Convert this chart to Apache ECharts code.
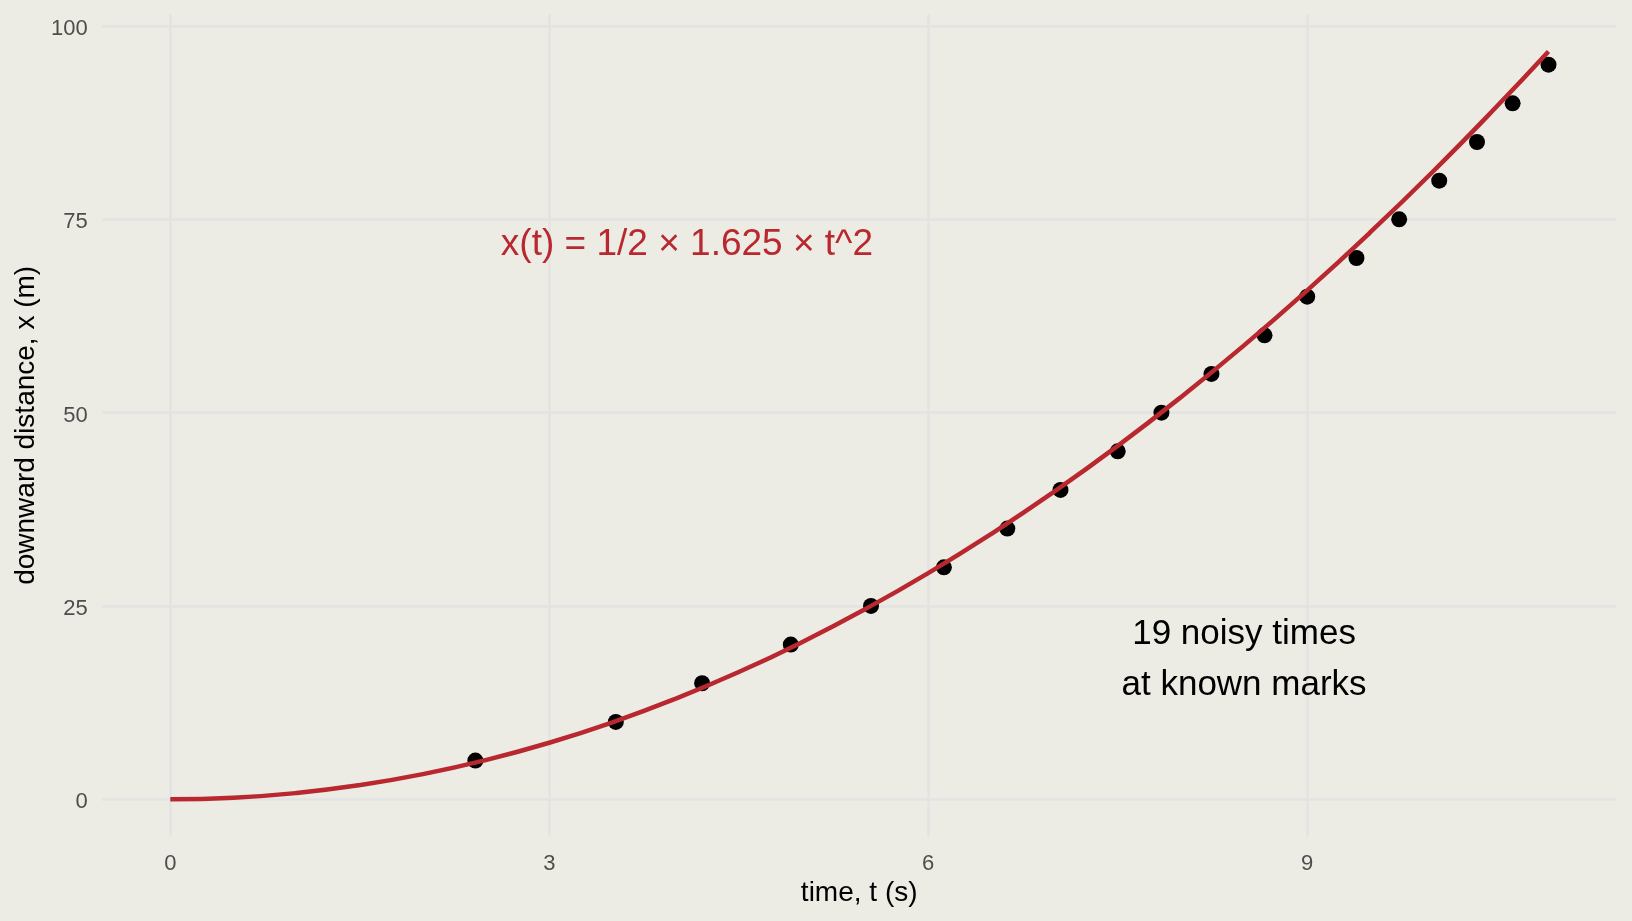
<!DOCTYPE html>
<html>
<head>
<meta charset="utf-8">
<script src="https://cdn.jsdelivr.net/npm/echarts@6/dist/echarts.min.js"></script>
<style>
html,body{margin:0;padding:0;background:#ECECE5;}
#c{width:1632px;height:921px;}
</style>
</head>
<body>
<div id="c"></div>
<script>
// observed times (s) at known distance marks (m)
const pointT = [2.415, 3.527, 4.21, 4.912, 5.547, 6.124, 6.626, 7.047, 7.50, 7.846, 8.242, 8.662, 9.0, 9.39, 9.728, 10.045, 10.344, 10.626, 10.91];
const pointX = [5, 10, 15, 20, 25, 30, 35, 40, 45, 50, 55, 60, 65, 70, 75, 80, 85, 90, 95];
// model curve
const curveT = [0, 0.5, 1, 1.5, 2, 2.5, 3, 3.5, 4, 4.5, 5, 5.5, 6, 6.5, 7, 7.5, 8, 8.5, 9, 9.5, 10, 10.5, 10.91];
const curveX = [0, 0.2, 0.81, 1.83, 3.25, 5.08, 7.31, 9.95, 13.0, 16.45, 20.31, 24.58, 29.25, 34.33, 39.81, 45.7, 52.0, 58.7, 65.81, 73.33, 81.25, 89.58, 96.7];
const xTicks = [0, 3, 6, 9];
const yTicks = [0, 25, 50, 75, 100];
const annoText = ['x(t) = 1/2 × 1.625 × t^2', '19 noisy times\nat known marks'];
const annoT = [4.09, 8.5];
const annoX = [71.7, 18.0];
const annoColor = ['#B8282E', '#000000'];
const annoSize = [37, 35];

const FONT = '"Liberation Sans", Arial, Helvetica, sans-serif';
const chart = echarts.init(document.getElementById('c'), null, {renderer: 'canvas'});

const annoData = annoText.map((t, i) => ({
  value: [annoT[i], annoX[i]],
  label: {
    show: true, formatter: t, position: 'inside', align: 'center', verticalAlign: 'middle',
    color: annoColor[i], fontSize: annoSize[i], fontFamily: FONT, lineHeight: i === 1 ? 51 : annoSize[i],
    opacity: 1
  }
}));

chart.setOption({
  backgroundColor: '#ECECE5',
  animation: false,
  grid: {left: 101.7, right: 15.3, top: 14, bottom: 84.3, containLabel: false},
  xAxis: {
    type: 'value', min: -0.543, max: 11.45,
    name: 'time, t (s)', nameLocation: 'middle', nameGap: 42,
    nameTextStyle: {color: '#000', fontSize: 28, fontFamily: FONT},
    axisLine: {show: false}, axisTick: {show: false, customValues: xTicks},
    axisLabel: {customValues: xTicks, color: '#4D4D4D', fontSize: 22, fontFamily: FONT, margin: 16},
    splitLine: {show: true, lineStyle: {color: '#E3E3E3', width: 2.5}}
  },
  yAxis: {
    type: 'value', min: -4.84, max: 101.55,
    name: 'downward distance, x (m)', nameLocation: 'middle', nameGap: 58, nameRotate: 90,
    nameTextStyle: {color: '#000', fontSize: 28, fontFamily: FONT},
    axisLine: {show: false}, axisTick: {show: false, customValues: yTicks},
    axisLabel: {
      customValues: yTicks, margin: 14,
      formatter: '{a|{value}}',
      rich: {a: {color: '#4D4D4D', fontSize: 22, fontFamily: FONT, padding: [6, 0, 0, 0]}}
    },
    splitLine: {show: true, lineStyle: {color: '#E3E3E3', width: 2.5}}
  },
  series: [
    {
      type: 'scatter', symbol: 'circle', symbolSize: 16,
      itemStyle: {color: '#000', opacity: 1},
      data: pointT.map((t, i) => [t, pointX[i]]), z: 2
    },
    {
      type: 'line', smooth: true, showSymbol: false, symbol: 'none',
      lineStyle: {color: '#B8282E', width: 4.5, opacity: 1}, z: 3,
      data: curveT.map((t, i) => [t, curveX[i]])
    },
    {
      type: 'scatter', symbolSize: 0, silent: true, z: 4,
      itemStyle: {opacity: 1},
      data: annoData
    }
  ]
});
</script>
</body>
</html>
